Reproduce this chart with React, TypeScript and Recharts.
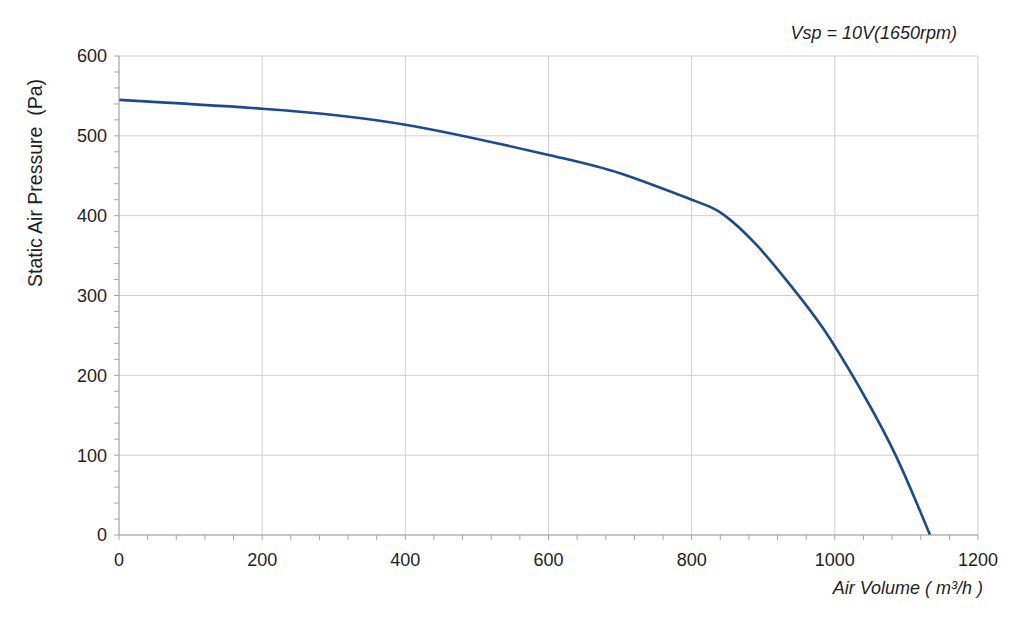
import React from 'react';
import { LineChart, Line, XAxis, YAxis, ReferenceLine } from 'recharts';

const airVolume = [0, 200, 400, 600, 700, 800, 845, 891, 937, 985, 1040, 1087, 1133];
const staticPressure = [545, 534, 514, 476, 453, 420, 401, 363, 314, 257, 176, 96, 0];

const xMajorTicks = [0, 200, 400, 600, 800, 1000, 1200];
const yMajorTicks = [0, 100, 200, 300, 400, 500, 600];
const xMinorTicks = [
  0, 40, 80, 120, 160, 200, 240, 280, 320, 360, 400, 440, 480, 520, 560, 600,
  640, 680, 720, 760, 800, 840, 880, 920, 960, 1000, 1040, 1080, 1120, 1160, 1200,
];
const yMinorTicks = [
  0, 20, 40, 60, 80, 100, 120, 140, 160, 180, 200, 220, 240, 260, 280, 300,
  320, 340, 360, 380, 400, 420, 440, 460, 480, 500, 520, 540, 560, 580, 600,
];

const titleText = 'Vsp = 10V(1650rpm)';
const xLabel = 'Air Volume ( m³/h )';
const yLabel = 'Static Air Pressure  (Pa)';

const data = airVolume.map((x, i) => ({ x, y: staticPressure[i] }));

const FONT = '"Liberation Sans", Arial, Helvetica, sans-serif';
const GRID = '#cfcfcf';
const AXIS = '#a6a6a6';

export default function App() {
  return (
    <div style={{ position: 'absolute', left: 0, top: 0, width: 1024, height: 623, background: '#fff' }}>
      <LineChart
        width={1024}
        height={623}
        data={data}
        margin={{ top: 56, right: 46, bottom: 58, left: 59 }}
        style={{ fontFamily: FONT }}
      >
        {xMajorTicks.map((v) => (
          <ReferenceLine key={'vx' + v} x={v} stroke={GRID} strokeWidth={1} ifOverflow="visible" />
        ))}
        {yMajorTicks.map((v) => (
          <ReferenceLine key={'hy' + v} y={v} stroke={GRID} strokeWidth={1} ifOverflow="visible" />
        ))}
        <XAxis
          type="number"
          dataKey="x"
          domain={[0, 1200]}
          ticks={xMinorTicks}
          interval={0}
          tickFormatter={(v: number) => (xMajorTicks.includes(v) ? String(v) : '')}
          tickSize={5}
          tickMargin={13}
          height={30}
          stroke={AXIS}
          tick={{ fill: '#1e1e1e', fontSize: 18, fontFamily: FONT }}
          allowDataOverflow
        />
        <YAxis
          type="number"
          dataKey="y"
          domain={[0, 600]}
          ticks={yMinorTicks}
          interval={0}
          tickFormatter={(v: number) => (yMajorTicks.includes(v) ? String(v) : '')}
          tickSize={5}
          tickMargin={7}
          width={60}
          stroke={AXIS}
          tick={{ fill: '#1e1e1e', fontSize: 18, fontFamily: FONT }}
          allowDataOverflow
        />
        <Line
          type="natural"
          dataKey="y"
          stroke="#1c4a8e"
          strokeWidth={2.6}
          dot={false}
          activeDot={false}
          isAnimationActive={false}
        />
      </LineChart>
      <svg
        width={1024}
        height={623}
        style={{ position: 'absolute', left: 0, top: 0, pointerEvents: 'none' }}
      >
        <text
          x={957}
          y={39}
          textAnchor="end"
          fontFamily={FONT}
          fontSize={18}
          fontStyle="italic"
          fill="#1e1e1e"
        >
          {titleText}
        </text>
        <text
          x={983}
          y={594}
          textAnchor="end"
          fontFamily={FONT}
          fontSize={18}
          fontStyle="italic"
          fill="#1e1e1e"
        >
          {xLabel}
        </text>
        <text
          x={0}
          y={0}
          transform="translate(42,183) rotate(-90)"
          textAnchor="middle"
          fontFamily={FONT}
          fontSize={19.5}
          fill="#1e1e1e"
          style={{ whiteSpace: 'pre' }}
        >
          {yLabel}
        </text>
      </svg>
    </div>
  );
}
